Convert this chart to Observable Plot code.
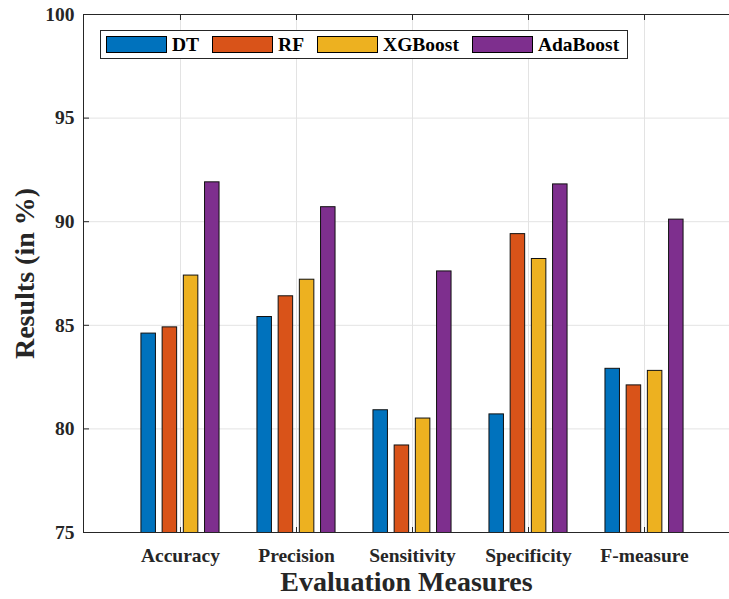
<!DOCTYPE html>
<html><head><meta charset="utf-8">
<script src="https://cdn.jsdelivr.net/npm/d3@7"></script>
<script src="https://cdn.jsdelivr.net/npm/@observablehq/plot@0.6"></script>
<style>
html,body{margin:0;padding:0;background:#fff;}
#wrap{position:relative;width:729px;height:599px;overflow:hidden;}
#wrap svg{position:absolute;left:0;top:0;}
#wrap svg text{font-weight:bold;}
#legend{position:absolute;left:100px;top:30px;width:528px;height:29px;box-sizing:border-box;border:1px solid #262626;background:#fff;display:flex;align-items:center;padding:0 0 0 5px;font-family:"Liberation Serif","Times New Roman",serif;font-weight:bold;font-size:19.5px;color:#000;}
.sw{width:61px;height:17px;box-sizing:border-box;border:1px solid #000;margin-right:5px;}
.it{display:flex;align-items:center;margin-right:13px;line-height:1;}
</style></head><body><div id="wrap"><div id="legend"></div></div>
<script>
const categories = ["Accuracy","Precision","Sensitivity","Specificity","F-measure"];
const models = ["DT","RF","XGBoost","AdaBoost"];
const DT = [84.6, 85.4, 80.9, 80.7, 82.9];
const RF = [84.9, 86.4, 79.2, 89.4, 82.1];
const XGBoost = [87.4, 87.2, 80.5, 88.2, 82.8];
const AdaBoost = [91.9, 90.7, 87.6, 91.8, 90.1];
const yTicks = [75, 80, 85, 90, 95, 100];
const colors = ["#0072BD", "#D95319", "#EDB120", "#7E2F8E"];
const xTitle = "Evaluation Measures";
const yTitle = "Results (in %)";

const series = [DT, RF, XGBoost, AdaBoost];
const rows = [];
categories.forEach((c, gi) => {
  models.forEach((m, si) => {
    rows.push({category: c, model: m, value: series[si][gi], g: gi + 1});
  });
});
const xPos = categories.map((c, i) => i + 1);
const off = d3.scaleBand().domain(models).range([-0.3366, 0.3366]).paddingInner(0.316).paddingOuter(0);

const ink = "#262626";
const grid = "#e3e3e3";

const chart = Plot.plot({
  width: 729,
  height: 599,
  marginTop: 14,
  marginBottom: 67,
  marginLeft: 83,
  marginRight: 0,
  style: {fontFamily: "'Liberation Serif','Times New Roman',serif", fontSize: "19.5px", fontWeight: "bold", color: ink, background: "white", overflow: "hidden"},
  x: {type: "linear", domain: [0.164, 5.836], range: [83, 741]},
  y: {domain: [75, 100], range: [532, 14]},
  color: {domain: models, range: colors},
  marks: [
    Plot.gridY(yTicks, {stroke: grid, strokeOpacity: 1}),
    Plot.gridX(xPos, {stroke: grid, strokeOpacity: 1}),
    Plot.rectY(rows, {
      x1: d => d.g + off(d.model),
      x2: d => d.g + off(d.model) + off.bandwidth(),
      y1: 0,
      y2: "value",
      fill: "model",
      stroke: "#111",
      strokeWidth: 1,
      clip: true
    }),
    Plot.axisY(yTicks, {tickSize: -6, tickPadding: 15, fontSize: 19.5, tickFormat: d => String(d), label: null, stroke: ink}),
    Plot.axisX(xPos, {tickSize: -5, tickPadding: 21, fontSize: 19.5, tickFormat: d => categories[d - 1], label: null, stroke: ink}),
    Plot.axisX(xPos, {anchor: "top", tickSize: -5, tickFormat: () => "", label: null, stroke: ink}),
    Plot.frame({stroke: ink, strokeWidth: 1}),
    Plot.text([xTitle], {frameAnchor: "bottom", dy: 58, lineAnchor: "bottom", textAnchor: "middle", text: d => d, fontSize: 28, fill: ink}),
    Plot.text([yTitle], {frameAnchor: "left", dx: -50, lineAnchor: "bottom", textAnchor: "middle", rotate: -90, text: d => d, fontSize: 28, fill: ink})
  ]
});
const wrap = document.getElementById("wrap");
wrap.insertBefore(chart, wrap.firstChild);

const legend = document.getElementById("legend");
models.forEach((m, i) => {
  const it = document.createElement("div");
  it.className = "it";
  const sw = document.createElement("div");
  sw.className = "sw";
  sw.style.background = colors[i];
  const t = document.createElement("span");
  t.textContent = m;
  it.appendChild(sw);
  it.appendChild(t);
  legend.appendChild(it);
});
</script>
</body></html>
